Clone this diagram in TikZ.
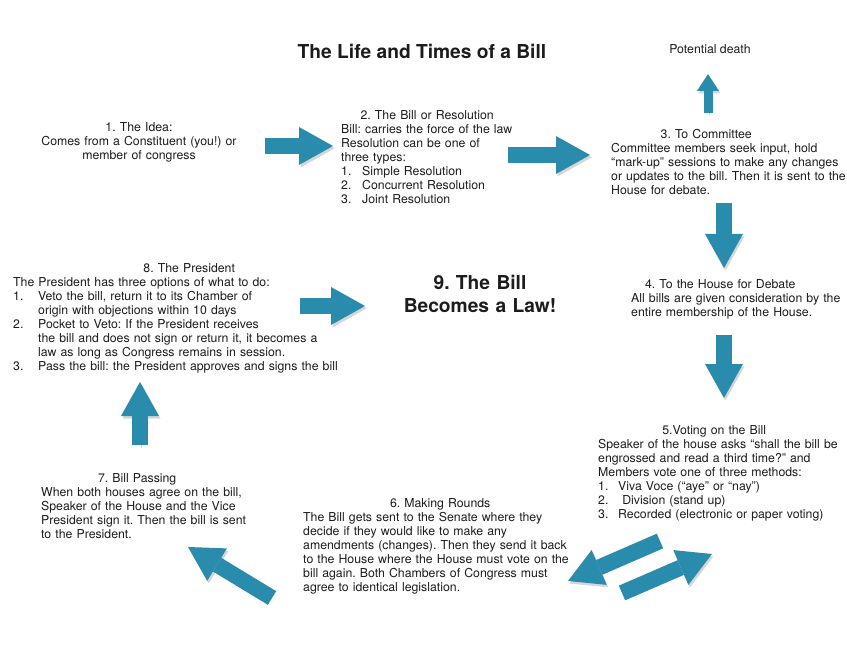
\documentclass[tikz,border=0pt]{standalone}
\usepackage{fontspec}
\setmainfont{TeX Gyre Heros}
\usetikzlibrary{arrows.meta}
\definecolor{billteal}{HTML}{2A8CAD}
\definecolor{billink}{HTML}{1C1C1C}
\newcommand{\itemno}[2][21pt]{\makebox[#1][l]{#2}}
\newcommand{\stephead}[2]{\makebox[#1]{#2}}
\frenchspacing

\begin{document}
\begin{tikzpicture}[x=1pt, y=-1pt,
    font=\fontsize{12.3}{14}\selectfont,
    every node/.style={inner sep=0pt, text=billink},
    stepbox/.style={text width=360pt, align=left, anchor=base west},
    bigtext/.style={font=\fontsize{19.2}{23}\selectfont\bfseries},
    shade/.style={preaction={draw=black!16,
      transform canvas={shift={(1.5pt,-2.5pt)}}}},
    bigarrow/.style={shade, billteal, line width=16pt,
      -{Triangle[width=38pt, length=34pt, line width=0pt]}},
    smallarrow/.style={shade, billteal, line width=9pt,
      -{Triangle[width=22pt, length=17pt, line width=0pt]}}]
  \fill[white] (0,0) rectangle (847,650);
  \useasboundingbox (0,0) rectangle (847,650);

  \node[bigtext, anchor=base] (title) at (422,59) {The Life and Times of a Bill};
  \node[anchor=base] (death) at (710,53.5) {Potential death};

  % steps
  \node[stepbox, text width=240pt, align=center, anchor=base] (idea) at (139,131.5)
    {1. The Idea:\\ Comes from a Constituent (you!) or\\ member of congress};
  \node[stepbox] (bill) at (341,119.5)
    {\stephead{172pt}{2. The Bill or Resolution}\\
     Bill: carries the force of the law\\
     Resolution can be one of\\
     three types:\\
     \itemno{1.}Simple Resolution\\
     \itemno{2.}Concurrent Resolution\\
     \itemno{3.}Joint Resolution};
  \node[stepbox] (committee) at (611,138.5)
    {\stephead{190pt}{3. To Committee}\\
     Committee members seek input, hold\\
     ``mark-up'' sessions to make any changes\\
     or updates to the bill. Then it is sent to the\\
     House for debate.};
  \node[stepbox] (house) at (631,288.5)
    {\stephead{178pt}{4. To the House for Debate}\\
     All bills are given consideration by the\\
     entire membership of the House.};
  \node[stepbox] (voting) at (598,434.5)
    {\stephead{232pt}{5.Voting on the Bill}\\
     Speaker of the house asks ``shall the bill be\\
     engrossed and read a third time?'' and\\
     Members vote one of three methods:\\
     \itemno[20pt]{1.}Viva Voce (``aye'' or ``nay'')\\
     \itemno[20pt]{2.}\ Division (stand up)\\
     \itemno[20pt]{3.}Recorded (electronic or paper voting)};
  \node[stepbox] (rounds) at (303,507.5)
    {\stephead{274pt}{6. Making Rounds}\\
     The Bill gets sent to the Senate where they\\
     decide if they would like to make any\\
     amendments (changes). Then they send it back\\
     to the House where the House must vote on the\\
     bill again. Both Chambers of Congress must\\
     agree to identical legislation.};
  \node[stepbox] (passing) at (41,482.5)
    {\stephead{192pt}{7. Bill Passing}\\
     When both houses agree on the bill,\\
     Speaker of the House and the Vice\\
     President sign it. Then the bill is sent\\
     to the President.};
  \node[stepbox] (president) at (13,272.5)
    {\stephead{352pt}{8. The President}\\
     The President has three options of what to do:\\
     \itemno[25pt]{1.}Veto the bill, return it to its Chamber of\\
     \hspace*{25pt}origin with objections within 10 days\\
     \itemno[25pt]{2.}Pocket to Veto: If the President receives\\
     \hspace*{25pt}the bill and does not sign or return it, it becomes a\\
     \hspace*{25pt}law as long as Congress remains in session.\\
     \itemno[25pt]{3.}Pass the bill: the President approves and signs the bill};
  \node[bigtext, text width=220pt, align=center, anchor=base] (law) at (480,290)
    {9. The Bill\\ Becomes a Law!};

  % arrows
  \coordinate (d1) at (708,113);
  \coordinate (d2) at (708,74);
  \draw[smallarrow] (d1) -- (d2);
  \foreach \sx/\sy/\ex/\ey/\nm in {265/146/333/146/a, 508/155/590/155/b,
      724/203/724/268/c, 724/335/724/398/e, 660/541/568/581/f,
      622/593/712/554/g, 272/598/188/547/h, 140/445/140/382/k,
      300/306/365/306/m}{%
    \coordinate (\nm1) at (\sx,\sy);
    \coordinate (\nm2) at (\ex,\ey);
    \draw[bigarrow] (\nm1) -- (\nm2);}
\end{tikzpicture}
\end{document}
